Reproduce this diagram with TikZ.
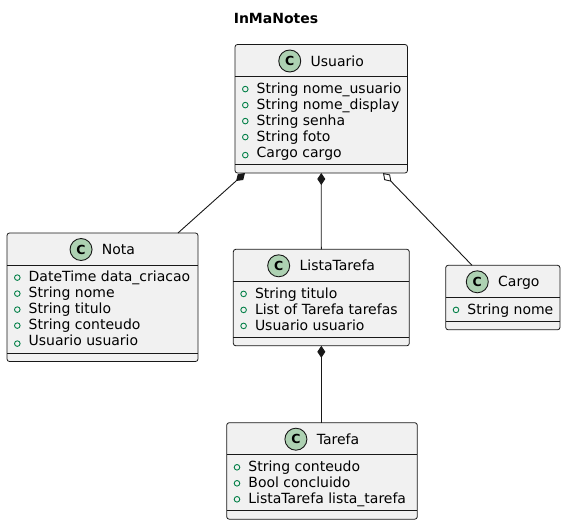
\documentclass[tikz,border=0pt]{standalone}
\usepackage{fontspec}
\setmainfont{DejaVu Sans}
\usetikzlibrary{arrows.meta}
\definecolor{boxfill}{HTML}{F1F1F1}
\definecolor{boxline}{HTML}{181818}
\definecolor{iconfill}{HTML}{ADD1B2}
\definecolor{visgreen}{HTML}{038048}
\newcounter{attrc}
% #1 id, #2 left, #3 top, #4 width, #5 number of attributes, #6 title
\newcommand\umlclass[6]{%
  \pgfmathsetmacro\umlhh{48.5+16*#5}%
  \node[classbox, minimum width=#4pt, minimum height=\umlhh pt, anchor=north west] (#1) at (#2,#3) {};
  \draw[divider] (#2,#3+32) -- (#2+#4,#3+32);
  \draw[divider] (#2,#3+40+16*#5) -- (#2+#4,#3+40+16*#5);
  \node[classname, anchor=base] (#1-name) at (#2+#4/2+16,#3+21.5) {#6};
  \node[classicon] (#1-icon) at ([xshift=-20.7pt, yshift=5pt]#1-name.base west) {C};
}
% #1 left of class, #2 baseline, #3 text, #4 raise of the visibility mark
\newcommand\umlattr[4]{%
  \stepcounter{attrc}%
  \node[vismark] (vis-\theattrc) at (#1+10.3,#2-#4) {};
  \node[attrtext, anchor=base west] (attr-\theattrc) at (#1+21.5,#2) {#3};
}
\begin{document}
\begin{tikzpicture}[x=1pt,y=-1pt,
  every node/.style={font=\fontsize{14}{16}\selectfont},
  classbox/.style={draw=boxline, fill=boxfill, line width=0.8pt, rounded corners=2.5pt, inner sep=0pt, outer sep=0pt},
  divider/.style={draw=boxline, line width=0.8pt},
  classname/.style={inner sep=0pt, text=black},
  classicon/.style={circle, draw=boxline, fill=iconfill, line width=0.9pt, minimum size=22pt, inner sep=0pt, font=\fontsize{12.5}{14}\selectfont\bfseries},
  vismark/.style={circle, draw=visgreen, line width=0.9pt, minimum size=5.6pt, inner sep=0pt},
  attrtext/.style={inner sep=0pt, text=black},
  titletext/.style={inner sep=0pt, font=\fontsize{14}{16}\selectfont\bfseries},
  conn/.style={draw=boxline, line width=0.9pt},
  comp/.style={{Diamond[length=12pt,width=8pt]}-},
  aggr/.style={{Diamond[length=12pt,width=8pt,fill=white]}-}
]
\useasboundingbox (0,0) rectangle (566,525);

\node[titletext, anchor=base] (title) at (276,23) {InMaNotes};

% Usuario
\umlclass{usuario}{235}{44.5}{172.5}{5}{Usuario}
\umlattr{235}{93.3}{String nome\_usuario}{4.2}
\umlattr{235}{109.3}{String nome\_display}{4.2}
\umlattr{235}{125.3}{String senha}{4.2}
\umlattr{235}{141.3}{String foto}{4.2}
\umlattr{235}{157.3}{Cargo cargo}{2.2}

% Nota
\umlclass{nota}{7}{233}{191}{5}{Nota}
\umlattr{7}{281.8}{DateTime data\_criacao}{4.2}
\umlattr{7}{297.8}{String nome}{4.2}
\umlattr{7}{313.8}{String titulo}{4.2}
\umlattr{7}{329.8}{String conteudo}{4.2}
\umlattr{7}{345.8}{Usuario usuario}{2.2}

% ListaTarefa
\umlclass{lista}{233.3}{249.3}{176}{3}{ListaTarefa}
\umlattr{233.3}{298.1}{String titulo}{4.2}
\umlattr{233.3}{314.1}{List of Tarefa tarefas}{4.2}
\umlattr{233.3}{330.1}{Usuario usuario}{4.2}

% Cargo
\umlclass{cargo}{445.7}{265.3}{114.3}{1}{Cargo}
\umlattr{445.7}{314.1}{String nome}{4.2}

% Tarefa
\umlclass{tarefa}{226.7}{422.7}{190.6}{3}{Tarefa}
\umlattr{226.7}{471.5}{String conteudo}{4.2}
\umlattr{226.7}{487.5}{Bool concluido}{4.2}
\umlattr{226.7}{503.5}{ListaTarefa lista\_tarefa}{4.2}

% connectors
\coordinate (u-nota) at ([xshift=10pt]usuario.south west);
\coordinate (nota-top) at ([xshift=-20pt]nota.north east);
\draw[conn, comp] (u-nota) -- (nota-top);
\draw[conn, comp] (usuario.south) -- (lista.north);
\coordinate (u-cargo) at ([xshift=-24.5pt]usuario.south east);
\coordinate (cargo-top) at ([xshift=26.3pt]cargo.north west);
\draw[conn, aggr] (u-cargo) -- (cargo-top);
\draw[conn, comp] (lista.south) -- (lista.south |- tarefa.north);
\end{tikzpicture}
\end{document}
